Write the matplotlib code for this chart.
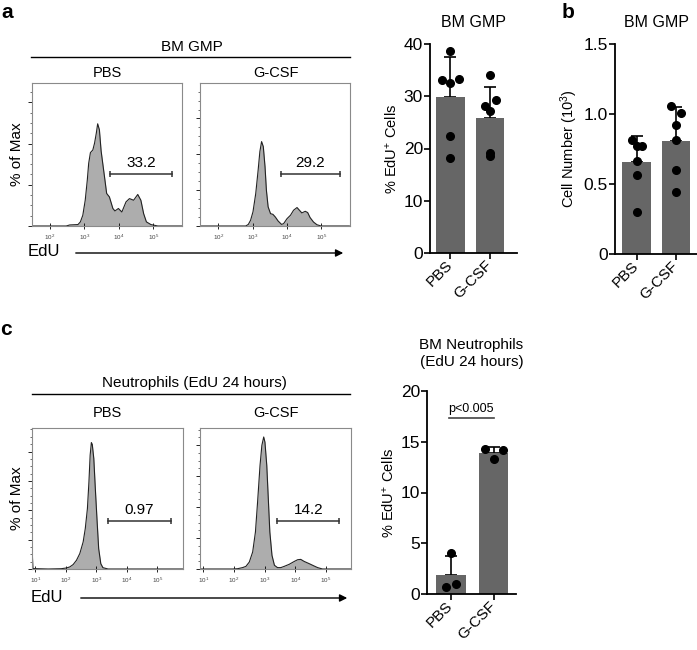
import matplotlib
matplotlib.use("Agg")
import numpy as np
import matplotlib.pyplot as plt
from matplotlib.ticker import MultipleLocator, LogLocator, NullFormatter, FixedLocator
from matplotlib.lines import Line2D
from matplotlib.patches import FancyArrowPatch

plt.rcParams["font.family"] = ["Liberation Sans", "DejaVu Sans"]
plt.rcParams["mathtext.fontset"] = "custom"
plt.rcParams["mathtext.rm"] = "Liberation Sans"
plt.rcParams["mathtext.it"] = "Liberation Sans:italic"

# ---- flow histograms (log10 EdU, % of max) ----
gmp_pbs_log = [1.49, 2.48, 2.58, 2.82, 2.89, 2.96, 3.03, 3.09, 3.13, 3.18, 3.25, 3.30, 3.35,
               3.39, 3.44, 3.49, 3.59, 3.65, 3.73, 3.83, 3.89, 3.99, 4.09, 4.21, 4.31, 4.43,
               4.55, 4.64, 4.72, 4.80, 4.93, 5.13, 5.83]
gmp_pbs_pct = [0, 0, 0.5, 0.7, 2.0, 5.2, 12.5, 22.3, 30.4, 35.6, 36.9, 40.2, 45.0,
               49.6, 46.7, 36.4, 23.6, 15.8, 14.1, 8.5, 7.3, 8.5, 6.8, 11.7, 13.3, 12.5,
               15.3, 12.5, 6.0, 2.0, 0.7, 0, 0]

gmp_gcsf_log = [1.45, 2.80, 2.875, 2.94, 3.01, 3.09, 3.16, 3.21, 3.26, 3.31, 3.36, 3.40, 3.45,
                3.52, 3.59, 3.66, 3.74, 3.84, 3.90, 4.00, 4.10, 4.19, 4.29, 4.36, 4.43, 4.53,
                4.60, 4.67, 4.77, 4.87, 4.99, 5.81]
gmp_gcsf_pct = [0, 0, 0.9, 3.2, 7.9, 18.1, 31.2, 41.5, 47.1, 44.3, 33.1, 20.0, 10.7,
                6.9, 6.5, 5.0, 2.8, 0.9, 1.3, 4.1, 6.0, 8.8, 10.3, 8.8, 7.3, 8.2,
                7.5, 4.7, 2.2, 0.7, 0, 0]

neu_pbs_log = [0.89, 0.90, 0.92, 1.42, 1.85, 2.02, 2.13, 2.24, 2.35, 2.46, 2.57, 2.64, 2.71,
               2.76, 2.80, 2.84, 2.87, 2.92, 2.97, 3.03, 3.08, 3.15, 3.22, 3.39, 5.85]
neu_pbs_pct = [10.5, 10.5, 0.3, 0, 0.2, 0.7, 1.4, 3.0, 5.9, 10.5, 18.4, 27.5, 41.1,
               59.3, 77.5, 86.1, 84.8, 75.2, 54.8, 32.0, 13.9, 3.6, 0.9, 0, 0]

neu_gcsf_log = [0.89, 1.96, 2.12, 2.28, 2.39, 2.50, 2.61, 2.70, 2.77, 2.85, 2.91, 2.97, 3.01,
                3.07, 3.12, 3.17, 3.24, 3.32, 3.42, 3.53, 3.64, 3.80, 3.97, 4.08, 4.18, 4.29,
                4.46, 4.62, 4.73, 4.89, 5.82]
neu_gcsf_pct = [0, 0, 0.2, 0.9, 1.7, 4.5, 11.0, 23.9, 43.2, 66.9, 79.8, 85.2, 81.9,
                66.9, 45.4, 23.9, 8.8, 2.4, 0.9, 0.9, 1.7, 3.0, 4.9, 6.0, 6.2, 4.9,
                3.4, 1.9, 0.9, 0, 0]

# gates: (log10 low, log10 high, height, label)
gate_gmp_pbs = (3.76, 5.53, 25.0, "33.2")
gate_gmp_gcsf = (3.81, 5.54, 28.8, "29.2")
gate_neu_pbs = (3.37, 5.44, 32.5, "0.97")
gate_neu_gcsf = (3.42, 5.43, 30.8, "14.2")

# ---- bar charts ----
groups = ["PBS", "G-CSF"]

gmp_edu_mean = [29.8, 25.9]
gmp_edu_sd = [7.7, 5.8]
gmp_edu_pbs = [38.7, 33.1, 32.6, 33.3, 22.4, 18.1]
gmp_edu_gcsf = [34.0, 28.1, 29.2, 27.2, 19.2, 18.5]

gmp_num_mean = [0.655, 0.81]
gmp_num_sd = [0.185, 0.238]
gmp_num_pbs = [0.814, 0.774, 0.774, 0.664, 0.562, 0.30]
gmp_num_gcsf = [1.057, 1.01, 0.921, 0.814, 0.598, 0.44]
gmp_num_ticks = [0, 0.5, 1.0, 1.5]
gmp_num_ticklabels = ["0", "0.5", "1.0", "1.5"]

neu_edu_mean = [1.87, 13.9]
neu_edu_sd = [1.87, 0.55]
neu_edu_pbs = [4.07, 0.72, 0.95]
neu_edu_gcsf = [14.25, 14.19, 13.27]

# dot jitter (x offsets within each bar)
jit_a_pbs = [0, -0.22, 0, 0.21, 0, 0]
jit_a_gcsf = [0, -0.13, 0.14, 0, 0, 0]
jit_b_pbs = [-0.13, 0.0, 0.14, 0, 0, 0]
jit_b_gcsf = [-0.14, 0.13, 0, 0, 0, 0]
jit_c_pbs = [0, -0.12, 0.12]
jit_c_gcsf = [-0.2, 0.21, 0]

W, H = 697, 650
fig = plt.figure(figsize=(W / 100, H / 100), dpi=100)


def px_axes(x0, y0, x1, y1):
    return fig.add_axes([x0 / W, 1 - y1 / H, (x1 - x0) / W, (y1 - y0) / H])


def fig_text(x, y, s, **kw):
    fig.text(x / W, 1 - y / H, s, **kw)


def fig_line(x0, x1, y, lw=1.0):
    fig.add_artist(Line2D([x0 / W, x1 / W], [1 - y / H, 1 - y / H],
                          transform=fig.transFigure, color="black", lw=lw))


def histo(ax, xlog, pct, xlim, ymax, ystep, decades, gate):
    x = 10 ** np.array(xlog)
    ax.fill_between(x, pct, 0, color="#adadad", lw=0)
    ax.plot(x, pct, color="#222222", lw=0.8)
    ax.set_xscale("log")
    ax.set_xlim(10 ** xlim[0], 10 ** xlim[1])
    ax.set_ylim(0, ymax)
    ax.xaxis.set_major_locator(FixedLocator([10.0 ** d for d in decades]))
    ax.xaxis.set_minor_locator(LogLocator(base=10, subs=np.arange(2, 10)))
    ax.xaxis.set_minor_formatter(NullFormatter())
    ax.set_xticklabels(["$10^{%d}$" % d for d in decades], fontsize=4.5, color="#444444")
    ax.yaxis.set_major_locator(MultipleLocator(ystep))
    ax.yaxis.set_minor_locator(MultipleLocator(ystep / 4))
    ax.yaxis.set_major_formatter(NullFormatter())
    ax.tick_params(axis="x", which="major", direction="inout", length=4, width=0.6, pad=3)
    ax.tick_params(axis="x", which="minor", direction="inout", length=2, width=0.4)
    ax.tick_params(axis="y", which="major", direction="out", length=3, width=0.6, pad=0)
    ax.tick_params(axis="y", which="minor", direction="out", length=1.5, width=0.4)
    for s in ax.spines.values():
        s.set_color("#8a8a8a")
        s.set_linewidth(0.8)
    lo, hi, gy, lab = gate
    ax.plot([10 ** lo, 10 ** hi], [gy, gy], color="#333333", lw=1.1)
    ax.plot([10 ** lo, 10 ** hi], [gy, gy], ls="none", marker="|", ms=5, mew=1.1, color="#333333")
    ax.annotate(lab, (10 ** ((lo + hi) / 2), gy), xytext=(0, 3), textcoords="offset points",
                ha="center", va="bottom", fontsize=11)


def bars(ax, mean, sd, pts, jits, ylim, ylabel, width):
    xs = np.arange(len(groups))
    ax.errorbar(xs, mean, yerr=[np.zeros(len(xs)), sd], fmt="none", ecolor="black",
                elinewidth=1.2, capsize=4.3, capthick=1.2, zorder=1)
    ax.bar(xs, mean, width=width, color="#666666", zorder=2)
    for i, (p, j) in enumerate(zip(pts, jits)):
        ax.plot(i + np.array(j), p, "o", color="black", ms=5.5, zorder=3)
    ax.set_ylim(*ylim)
    ax.set_xticks(xs)
    ax.set_xticklabels(groups, rotation=45, ha="right", va="center", rotation_mode="anchor")
    ax.tick_params(axis="y", labelsize=12.5, length=4, width=1.2, pad=1)
    ax.tick_params(axis="x", labelsize=11, length=4, width=1.2, pad=3)
    for s in ["top", "right"]:
        ax.spines[s].set_visible(False)
    for s in ["left", "bottom"]:
        ax.spines[s].set_linewidth(1.3)
    ax.set_ylabel(ylabel, fontsize=10.5, labelpad=3)


# ---- panel a histograms ----
ax1 = px_axes(32, 83, 182, 226)
histo(ax1, gmp_pbs_log, gmp_pbs_pct, (1.49, 5.83), 69.4, 20, [2, 3, 4, 5], gate_gmp_pbs)
ax1.set_ylabel("% of Max", fontsize=11, labelpad=1)
ax2 = px_axes(200, 83, 350, 226)
histo(ax2, gmp_gcsf_log, gmp_gcsf_pct, (1.47, 5.83), 79.8, 20, [2, 3, 4, 5], gate_gmp_gcsf)

fig_text(192, 47, "BM GMP", ha="center", va="center", fontsize=11)
fig_line(31, 350, 57)
fig_text(107, 73, "PBS", ha="center", va="center", fontsize=10.5)
fig_text(276, 73, "G-CSF", ha="center", va="center", fontsize=10.5)
fig_text(28, 252, "EdU", ha="left", va="center", fontsize=12)
fig.add_artist(FancyArrowPatch((73 / W, 1 - 253 / H), (346 / W, 1 - 253 / H),
                               transform=fig.transFigure, arrowstyle="-|>",
                               mutation_scale=11, color="black", lw=1.0))

# ---- panel c histograms ----
ax3 = px_axes(32, 428, 183, 569)
histo(ax3, neu_pbs_log, neu_pbs_pct, (0.89, 5.85), 96, 20, [1, 2, 3, 4, 5], gate_neu_pbs)
ax3.set_ylabel("% of Max", fontsize=11, labelpad=1)
ax4 = px_axes(200, 428, 351, 569)
histo(ax4, neu_gcsf_log, neu_gcsf_pct, (0.89, 5.82), 91, 20, [1, 2, 3, 4, 5], gate_neu_gcsf)

fig_text(194, 383, "Neutrophils (EdU 24 hours)", ha="center", va="center", fontsize=11)
fig_line(32, 350, 394)
fig_text(107, 413, "PBS", ha="center", va="center", fontsize=10.5)
fig_text(276, 413, "G-CSF", ha="center", va="center", fontsize=10.5)
fig_text(31, 598, "EdU", ha="left", va="center", fontsize=12)
fig.add_artist(FancyArrowPatch((78 / W, 1 - 598 / H), (350 / W, 1 - 598 / H),
                               transform=fig.transFigure, arrowstyle="-|>",
                               mutation_scale=11, color="black", lw=1.0))

# ---- bar charts ----
axa = px_axes(430, 44, 517, 253)
bars(axa, gmp_edu_mean, gmp_edu_sd, [gmp_edu_pbs, gmp_edu_gcsf], [jit_a_pbs, jit_a_gcsf],
     (0, 40), "% EdU$^{+}$ Cells", 0.72)
axa.yaxis.set_major_locator(MultipleLocator(10))
axa.set_xlim(-0.51, 1.675)
axa.set_title("BM GMP", fontsize=11.5, pad=12)

axb = px_axes(615, 44, 697, 254)
bars(axb, gmp_num_mean, gmp_num_sd, [gmp_num_pbs, gmp_num_gcsf], [jit_b_pbs, jit_b_gcsf],
     (0, 1.5), "Cell Number (10$^{3}$)", 0.72)
axb.set_yticks(gmp_num_ticks)
axb.set_yticklabels(gmp_num_ticklabels)
axb.set_xlim(-0.55, 1.53)
axb.set_title("BM GMP", fontsize=11.5, pad=12)

axc = px_axes(427, 391, 516, 594)
bars(axc, neu_edu_mean, neu_edu_sd, [neu_edu_pbs, neu_edu_gcsf], [jit_c_pbs, jit_c_gcsf],
     (0, 20), "% EdU$^{+}$ Cells", 0.69)
axc.yaxis.set_major_locator(MultipleLocator(5))
axc.set_xlim(-0.555, 1.52)
axc.set_title("BM Neutrophils\n(EdU 24 hours)", fontsize=11, pad=18, linespacing=1.25)
axc.plot([-0.05, 1.0], [17.3, 17.3], color="#444444", lw=1.2, clip_on=False)
axc.text(0.475, 17.6, "p<0.005", ha="center", va="bottom", fontsize=9)

# panel letters
fig_text(1, 18, "a", fontsize=15, fontweight="bold", va="baseline")
fig_text(562, 18, "b", fontsize=15, fontweight="bold", va="baseline")
fig_text(0, 335, "c", fontsize=15, fontweight="bold", va="baseline")

fig.savefig("out.png", dpi=100)
